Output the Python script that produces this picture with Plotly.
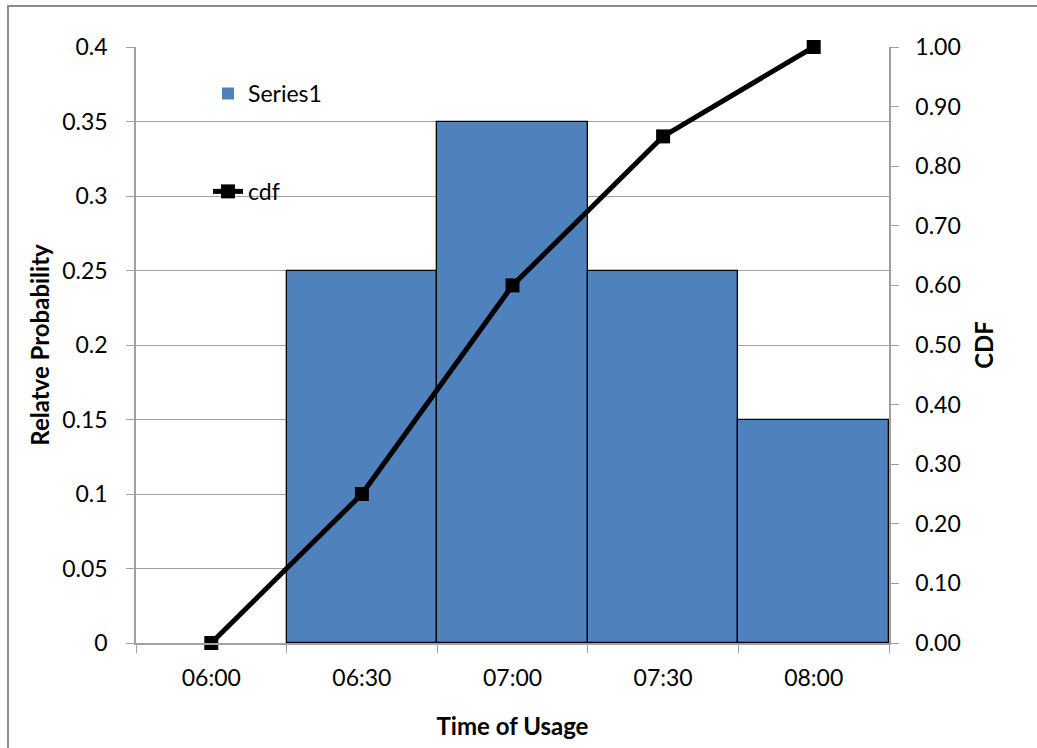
import plotly.graph_objects as go

# Time slots and their observed probabilities
times = ["06:00", "06:30", "07:00", "07:30", "08:00"]
rel_prob = [0.0, 0.25, 0.35, 0.25, 0.15]
cdf_vals = [0.0, 0.25, 0.60, 0.85, 1.00]

left_ticks = [0, 0.05, 0.1, 0.15, 0.2, 0.25, 0.3, 0.35, 0.4]
right_ticks = [0.0, 0.1, 0.2, 0.3, 0.4, 0.5, 0.6, 0.7, 0.8, 0.9, 1.0]

FONT = "Lato"
FS = 23
TS = 24
GRID = "#A0A0A0"

fig = go.Figure()

fig.add_trace(go.Bar(
    x=times, y=rel_prob, name="Series1",
    marker=dict(color="#4F81BD",
                line=dict(color="black", width=[0 if v == 0 else 1.3 for v in rel_prob])),
    legendgroup="a",
))

fig.add_trace(go.Scatter(
    x=times, y=cdf_vals, name="cdf", yaxis="y2",
    mode="lines+markers",
    line=dict(color="black", width=5),
    marker=dict(symbol="square", size=14, color="black"),
    cliponaxis=False,
    legendgroup="b",
))

fig.update_layout(
    width=1037, height=748,
    margin=dict(l=136, r=148, t=47, b=105),
    paper_bgcolor="white", plot_bgcolor="white",
    font=dict(family=FONT, size=FS, color="black"),
    bargap=0,
    showlegend=True,
    legend=dict(x=0.0956, y=0.958, xanchor="left", yanchor="top",
                bgcolor="rgba(0,0,0,0)", traceorder="grouped",
                tracegroupgap=65, font=dict(family=FONT, size=FS)),
    xaxis=dict(
        type="category", range=[-0.5, 4.5],
        tickson="boundaries", ticks="outside", ticklen=8, tickcolor=GRID,
        ticklabelstandoff=14,
        showgrid=False, showline=True, linecolor=GRID, linewidth=1.5,
        title=dict(text="<b>Time of Usage</b>", standoff=28,
                   font=dict(family=FONT, size=TS)),
        fixedrange=True,
    ),
    yaxis=dict(
        range=[0, 0.4], tickvals=left_ticks,
        ticktext=[f"{v:g}" for v in left_ticks],
        ticks="outside", ticklen=8, tickcolor=GRID,
        ticklabelstandoff=14,
        showgrid=True, gridcolor=GRID, gridwidth=1.3,
        showline=True, linecolor=GRID, linewidth=1.5,
        zeroline=False,
        title=dict(text="<b>Relatve Probability</b>", standoff=6,
                   font=dict(family=FONT, size=TS)),
    ),
    yaxis2=dict(
        range=[0, 1], tickvals=right_ticks,
        ticktext=[f"{v:.2f}" for v in right_ticks],
        overlaying="y", side="right",
        ticks="outside", ticklen=8, tickcolor=GRID,
        ticklabelstandoff=12,
        showgrid=False, showline=True, linecolor=GRID, linewidth=1.5,
        zeroline=False,
        title=dict(text="<b>CDF</b>", standoff=16,
                   font=dict(family=FONT, size=TS)),
    ),
    shapes=[dict(
        type="rect", xref="paper", yref="paper",
        x0=(8 - 136) / 753, x1=(1060 - 136) / 753,
        y0=(643 - 770) / 596, y1=(643 - 6) / 596,
        line=dict(color="#8C8C8C", width=2), fillcolor="rgba(0,0,0,0)",
        layer="below",
    )],
)

fig.write_html("out.html")
